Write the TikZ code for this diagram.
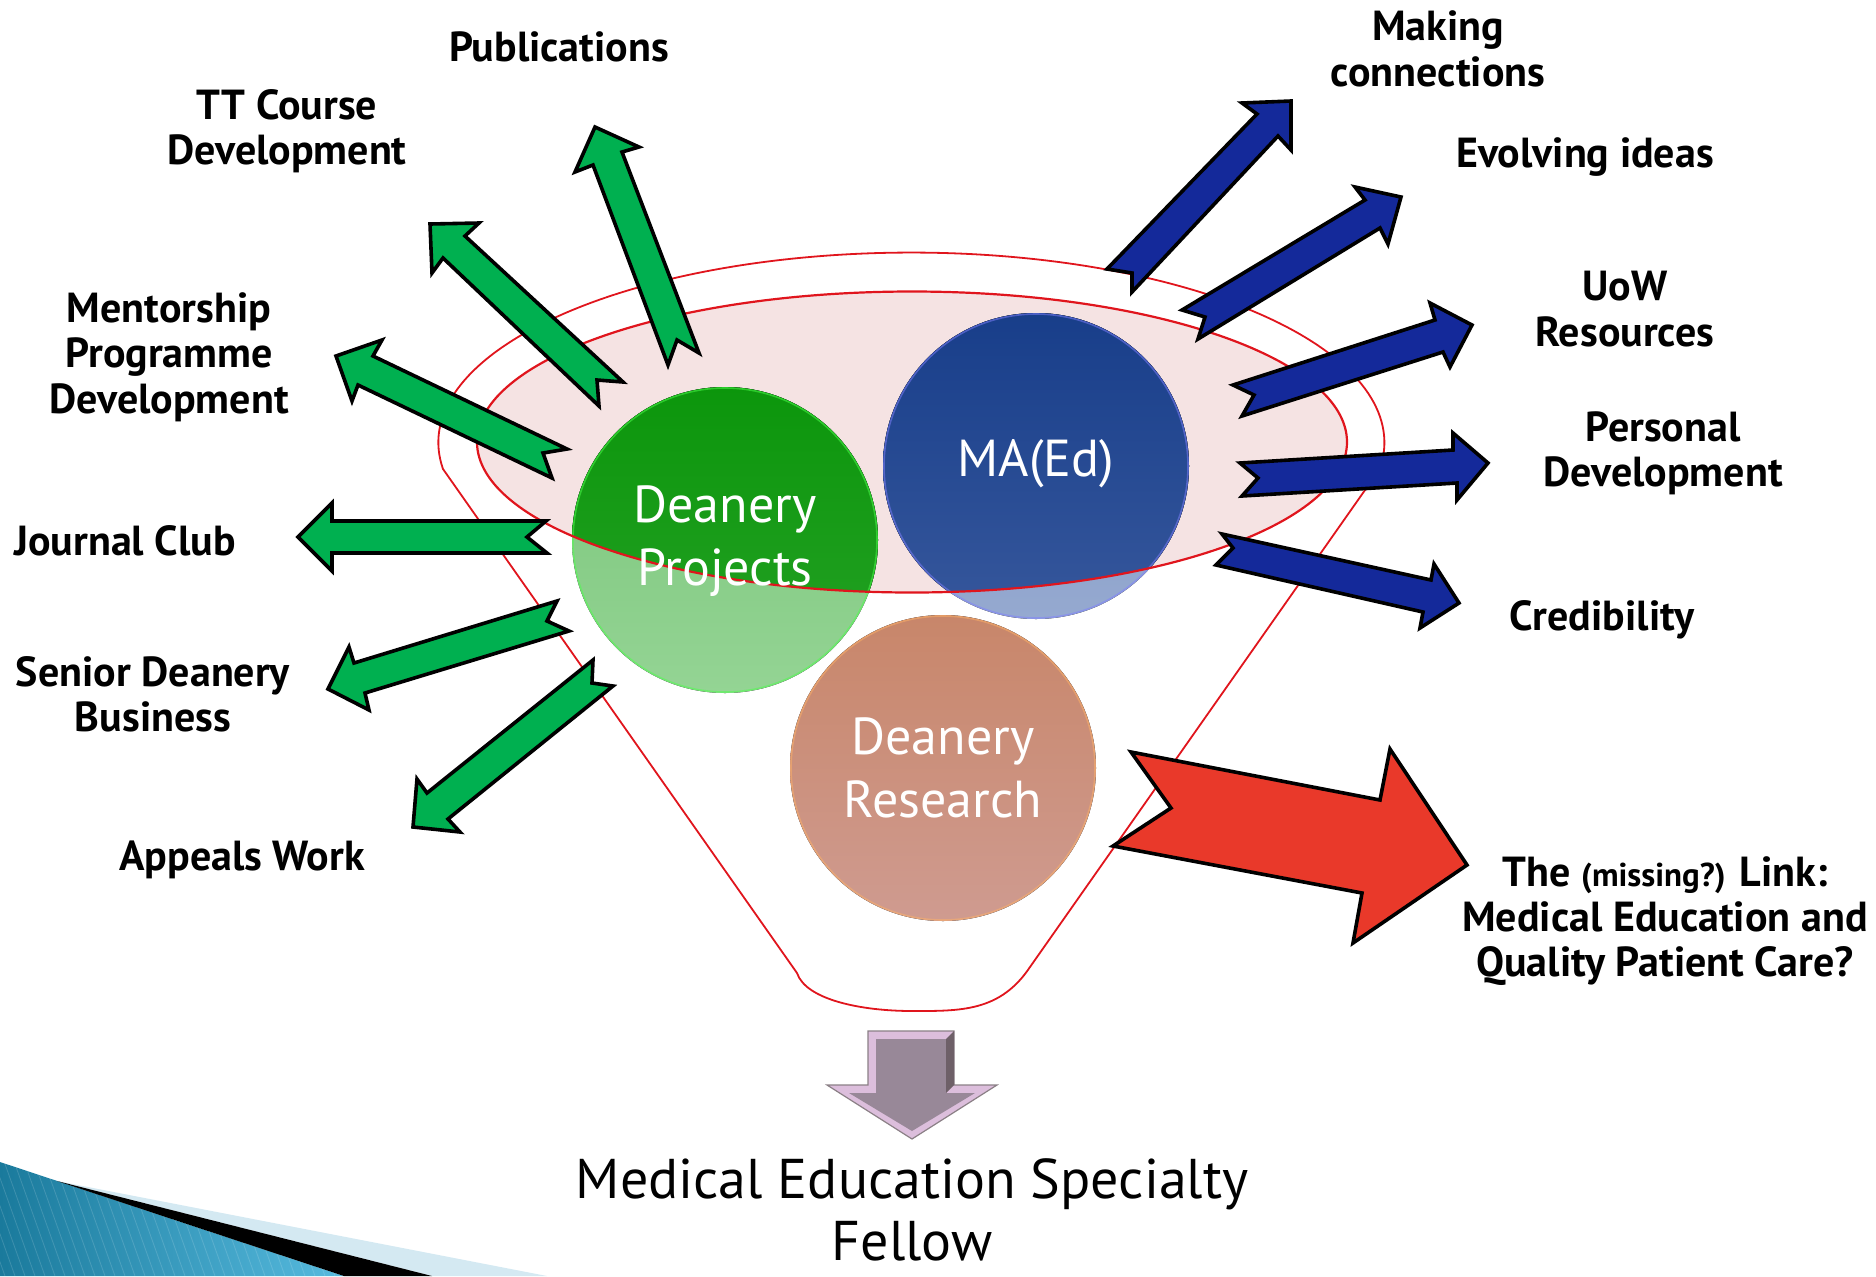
\documentclass[tikz,border=0pt]{standalone}
\usepackage{fontspec}
\setmainfont{PT Sans}
\definecolor{arrgreen}{HTML}{00B050}
\definecolor{arrblue}{HTML}{14299A}
\definecolor{arrred}{HTML}{E9392A}
\definecolor{funred}{HTML}{E0151D}
\definecolor{pinkfill}{HTML}{F5E3E3}
\definecolor{tealdark}{HTML}{1A7A9C}
\definecolor{teallight}{HTML}{58BCE0}
\definecolor{paleblue}{HTML}{D4E9F2}
\definecolor{gdtop}{HTML}{0C960C}
\definecolor{gdbot}{HTML}{26A226}
\definecolor{gltop}{HTML}{78C478}
\definecolor{glbot}{HTML}{94D494}
\definecolor{bdtop}{HTML}{183E8A}
\definecolor{bdbot}{HTML}{36579C}
\definecolor{bltop}{HTML}{7F95C2}
\definecolor{blbot}{HTML}{95A9D0}
\definecolor{rstop}{HTML}{C8866A}
\definecolor{rsbot}{HTML}{CF9B90}
\definecolor{dnfill}{HTML}{988898}
\definecolor{dnbevel}{HTML}{DCBEDC}
\definecolor{dndark}{HTML}{6E6068}
\begin{document}
\begin{tikzpicture}[x=0.5pt,y=-0.5pt,
  lbl/.style={font=\bfseries\fontsize{21}{22.7}\selectfont, align=center, inner sep=0pt},
  ctext/.style={text=white, font=\fontsize{26}{31.5}\selectfont, align=center, inner sep=0pt},
  bigtext/.style={font=\fontsize{28}{34}\selectfont, inner sep=0pt, anchor=base},
  bubble/.style={circle, minimum size=153pt, inner sep=0pt},
  garrow/.style={fill=arrgreen, draw=black, line width=1.8pt, line join=miter},
  barrow/.style={fill=arrblue, draw=black, line width=1.8pt, line join=miter},
  rarrow/.style={fill=arrred, draw=black, line width=1.8pt, line join=miter},
  funnel/.style={draw=funred, line width=0.9pt},
]
\useasboundingbox (0,0) rectangle (1876,1276);

% ---------- bottom-left decoration ----------
\begin{scope}
  \clip (0,1162) -- (344,1276) -- (0,1276) -- cycle;
  \shade[left color=tealdark, right color=teallight] (0,1150) rectangle (350,1276);
  \foreach \i in {-40,-30,...,340}
    \draw[white, opacity=0.15, line width=0.4pt] (\i,1150) -- (\i+45,1276);
\end{scope}
\fill[paleblue] (57,1181) -- (547,1276) -- (432,1276) -- cycle;
\fill[black] (57,1181) -- (432,1276) -- (344,1276) -- cycle;

% ---------- funnel ----------
\draw[funnel] (443,469) arc[start angle=172, end angle=368, x radius=473, y radius=190]
  -- (1030,967) .. controls (1000,1012) and (960,1011) .. (912,1011)
  .. controls (862,1011) and (806,1000) .. (797,973) -- cycle;
\fill[pinkfill] (912,442) ellipse[x radius=435, y radius=150.5];

% ---------- bubbles ----------
\fill[top color=gltop, bottom color=glbot] (725,540) circle[radius=76.5pt];
\fill[top color=bltop, bottom color=blbot] (1036,466) circle[radius=76.5pt];
\fill[top color=rstop, bottom color=rsbot] (943,768) circle[radius=76.5pt];
\begin{scope}
  \clip (912,442) ellipse[x radius=435, y radius=150.5];
  \fill[top color=gdtop, bottom color=gdbot] (725,540) circle[radius=76.5pt];
  \fill[top color=bdtop, bottom color=bdbot] (1036,466) circle[radius=76.5pt];
\end{scope}
\draw[green!70!white, opacity=0.5, line width=0.8pt] (725,540) circle[radius=76pt];
\draw[blue!50!white, opacity=0.5, line width=0.8pt] (1036,466) circle[radius=76pt];
\draw[orange!60!white, opacity=0.5, line width=0.8pt] (943,768) circle[radius=76pt];

\draw[funred, line width=1.1pt] (912,442) ellipse[x radius=435, y radius=150.5];

\node[bubble] (dp) at (725,540) {};
\node[bubble] (ma) at (1036,466) {};
\node[bubble] (dr) at (943,768) {};
\node[ctext] (dptext) at (725,541) {Deanery\\Projects};
\node[ctext] (matext) at (1036,464) {MA(Ed)};
\node[ctext] (drtext) at (943,768) {Deanery\\Research};

% ---------- green arrows ----------
\draw[garrow] (595,127) -- (639,147) -- (622,152) -- (699,353) -- (677,340) -- (668,365) -- (593,165) -- (575,172) -- cycle;
\draw[garrow] (430,224) -- (479,223) -- (465,236) -- (623,382) -- (597,380) -- (599,406) -- (443,258) -- (432,273) -- cycle;
\draw[garrow] (336,356) -- (382,340) -- (373,356) -- (567,449) -- (543,453) -- (552,478) -- (358,385) -- (352,401) -- cycle;
\draw[garrow] (298,537) -- (332,503) -- (332,521) -- (546,521) -- (527,537) -- (547,553) -- (332,553) -- (332,571) -- cycle;
\draw[garrow] (328,689) -- (349,647) -- (354,663) -- (557,601) -- (547,621) -- (569,631) -- (365,693) -- (369,710) -- cycle;
\draw[garrow] (413,827) -- (417,779) -- (427,793) -- (593,660) -- (592,683) -- (613,686) -- (448,819) -- (460,832) -- cycle;

% ---------- blue arrows ----------
\draw[barrow] (1291,101) -- (1242,103) -- (1257,114) -- (1107,269) -- (1132,273) -- (1132,292) -- (1278,136) -- (1291,150) -- cycle;
\draw[barrow] (1401,197) -- (1355,187) -- (1365,200) -- (1182,310) -- (1205,317) -- (1198,339) -- (1380,228) -- (1388,244) -- cycle;
\draw[barrow] (1472,325) -- (1430,303) -- (1435,320) -- (1233,385) -- (1254,395) -- (1242,416) -- (1443,352) -- (1450,367) -- cycle;
\draw[barrow] (1488,463) -- (1453,433) -- (1453,450) -- (1240,463) -- (1258,478) -- (1242,496) -- (1457,483) -- (1457,500) -- cycle;
\draw[barrow] (1459,603) -- (1434,564) -- (1431,580) -- (1222,534) -- (1233,548) -- (1216,565) -- (1423,612) -- (1420,628) -- cycle;

% ---------- red arrow ----------
\draw[rarrow] (1131,752) -- (1380,800) -- (1390,749) -- (1467,865) -- (1353,943) -- (1362,893) -- (1113,846) -- (1171,808) -- cycle;

% ---------- down arrow ----------
\fill[dnbevel, draw=dndark!80, line width=0.6pt] (868,1031) -- (954,1031) -- (954,1085) -- (997,1085) -- (912,1139) -- (827,1085) -- (868,1085) -- cycle;
\fill[dnfill] (876,1039) -- (946,1039) -- (946,1093) -- (975,1093) -- (912,1131) -- (849,1093) -- (876,1093) -- cycle;
\fill[dndark] (946,1039) -- (954,1031) -- (954,1085) -- (946,1093) -- cycle;

% ---------- labels ----------
\node[lbl] (pub) at (559,47) {Publications};
\node[lbl] (tt) at (287,131) {TT Course\\Development};
\node[lbl] (ment) at (169,357) {Mentorship\\Programme\\Development};
\node[lbl] (jc) at (125,541) {Journal Club};
\node[lbl] (sdb) at (153,694) {Senior Deanery\\Business};
\node[lbl] (aw) at (242,860) {Appeals Work};
\node[lbl] (mc) at (1438,49) {Making\\connections};
\node[lbl] (ei) at (1585,157) {Evolving ideas};
\node[lbl] (uow) at (1625,309) {UoW\\Resources};
\node[lbl] (pd) at (1663,453) {Personal\\Development};
\node[lbl] (cred) at (1602,620) {Credibility};
\node[lbl] (link) at (1665,921) {The {\fontsize{16.5}{22.7}\selectfont(missing?)} Link:\\Medical Education and\\Quality Patient Care?};
\node[bigtext] (msf1) at (912,1198) {Medical Education Specialty};
\node[bigtext] (msf2) at (912,1260) {Fellow};
\end{tikzpicture}
\end{document}
